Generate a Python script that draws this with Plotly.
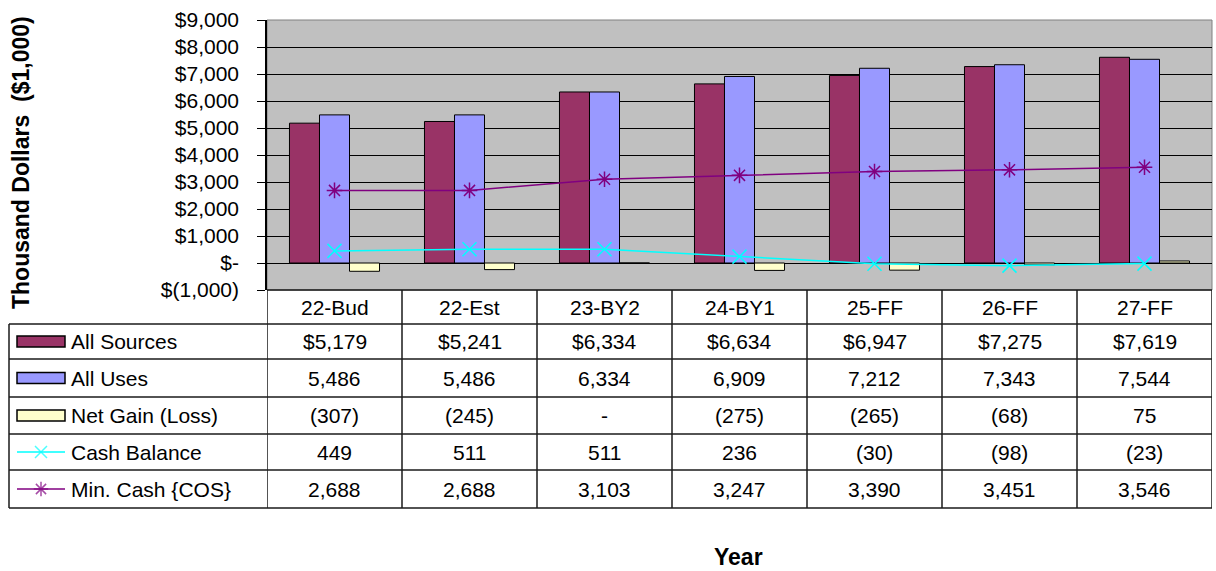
import plotly.graph_objects as go

# ---- data -------------------------------------------------------------
years = ["22-Bud", "22-Est", "23-BY2", "24-BY1", "25-FF", "26-FF", "27-FF"]
all_sources = [5179, 5241, 6334, 6634, 6947, 7275, 7619]
all_uses = [5486, 5486, 6334, 6909, 7212, 7343, 7544]
net_gain = [-307, -245, 0, -275, -265, -68, 75]
cash_balance = [449, 511, 511, 236, -30, -98, -23]
min_cash = [2688, 2688, 3103, 3247, 3390, 3451, 3546]

y_tick_vals = [-1000, 0, 1000, 2000, 3000, 4000, 5000, 6000, 7000, 8000, 9000]
y_tick_text = ["$(1,000)", "$-", "$1,000", "$2,000", "$3,000", "$4,000",
               "$5,000", "$6,000", "$7,000", "$8,000", "$9,000"]

# ---- styling / geometry ------------------------------------------------
W, H = 1216, 571
PLOT_L, PLOT_R, PLOT_T, PLOT_B = 267, 1212, 20, 290
ROW_EDGES = [290, 324, 359, 397, 434, 470, 508]
TABLE_L = 9
FONT = "Liberation Sans, Arial, sans-serif"
FS = 21

C_SRC, C_USE, C_NET = "#993366", "#9999FF", "#FFFFCC"
C_CASH, C_MIN = "#00FFFF", "#800080"


def acct(v, dollar=False):
    """Accounting-style number: thousands separators, parentheses for negatives."""
    if v == 0:
        return "-"
    s = f"{abs(v):,}"
    if dollar:
        s = "$" + s
    return f"({s})" if v < 0 else s


fig = go.Figure()

bar_line = dict(color="black", width=1)
fig.add_trace(go.Bar(x=years, y=all_sources, name="All Sources",
                     marker=dict(color=C_SRC, line=bar_line)))
fig.add_trace(go.Bar(x=years, y=all_uses, name="All Uses",
                     marker=dict(color=C_USE, line=bar_line)))
fig.add_trace(go.Bar(x=years, y=net_gain, name="Net Gain (Loss)",
                     marker=dict(color=C_NET, line=bar_line)))
fig.add_trace(go.Scatter(x=years, y=cash_balance, name="Cash Balance",
                         mode="lines+markers",
                         line=dict(color=C_CASH, width=1.5),
                         marker=dict(symbol="x-thin", size=14,
                                     line=dict(color=C_CASH, width=1.5))))
fig.add_trace(go.Scatter(x=years, y=min_cash, name="Min. Cash {COS}",
                         mode="lines+markers",
                         line=dict(color=C_MIN, width=1.5),
                         marker=dict(symbol="asterisk", size=13,
                                     line=dict(color=C_MIN, width=1.5))))

# ---- data table beneath the plot ---------------------------------------
rows = [
    ("All Sources", [acct(v, dollar=True) for v in all_sources], "bar", C_SRC),
    ("All Uses", [acct(v) for v in all_uses], "bar", C_USE),
    ("Net Gain (Loss)", [acct(v) for v in net_gain], "bar", C_NET),
    ("Cash Balance", [acct(v) for v in cash_balance], "x-thin", C_CASH),
    ("Min. Cash {COS}", [acct(v) for v in min_cash], "asterisk", C_MIN),
]

shapes = []
annotations = []
line_style = dict(color="#1a1a1a", width=1.5)

# plot area background
shapes.append(dict(type="rect", xref="x domain", yref="y domain",
                   x0=0, x1=1, y0=0, y1=1, fillcolor="#C0C0C0",
                   line=dict(color="#808080", width=1), layer="below"))

# horizontal rules
shapes.append(dict(type="line", xref="x2", yref="y2", x0=PLOT_L, x1=PLOT_R,
                   y0=ROW_EDGES[0], y1=ROW_EDGES[0], line=line_style))
for yy in ROW_EDGES[1:]:
    shapes.append(dict(type="line", xref="x2", yref="y2", x0=TABLE_L, x1=PLOT_R,
                       y0=yy, y1=yy, line=line_style))
# vertical rules: left edge of label column, then category column borders
shapes.append(dict(type="line", xref="x2", yref="y2", x0=TABLE_L, x1=TABLE_L,
                   y0=ROW_EDGES[1], y1=ROW_EDGES[-1], line=line_style))
for i in range(len(years) + 1):
    shapes.append(dict(type="line", xref="x", yref="y2", x0=i - 0.5, x1=i - 0.5,
                       y0=ROW_EDGES[0], y1=ROW_EDGES[-1], line=line_style))

cell_font = dict(family=FONT, size=FS, color="black")

# header: category names
hdr_y = (ROW_EDGES[0] + ROW_EDGES[1]) / 2
for yr in years:
    annotations.append(dict(x=yr, y=hdr_y, xref="x", yref="y2", text=yr,
                            showarrow=False, font=cell_font,
                            xanchor="center", yanchor="middle"))

for r, (label, cells, key, color) in enumerate(rows):
    cy = (ROW_EDGES[r + 1] + ROW_EDGES[r + 2]) / 2
    annotations.append(dict(x=69, y=cy, xref="x2", yref="y2", text=label,
                            showarrow=False, font=cell_font,
                            xanchor="left", yanchor="middle"))
    for yr, txt in zip(years, cells):
        annotations.append(dict(x=yr, y=cy, xref="x", yref="y2", text=txt,
                                showarrow=False, font=cell_font,
                                xanchor="center", yanchor="middle"))
    if key == "bar":
        shapes.append(dict(type="rect", xref="x2", yref="y2", x0=17, x1=65,
                           y0=cy - 5.5, y1=cy + 5.5, fillcolor=color,
                           line=dict(color="black", width=1.5)))
    else:
        fig.add_trace(go.Scatter(x=[17, 41, 65], y=[cy, cy, cy],
                                 xaxis="x2", yaxis="y2", mode="lines+markers",
                                 line=dict(color=color, width=1.5),
                                 marker=dict(symbol=key, size=[0, 12, 0],
                                             line=dict(color=color, width=1.5)),
                                 hoverinfo="skip", showlegend=False))

# axis titles
annotations.append(dict(x=21, y=163, xref="x2", yref="y2",
                        text="Thousand Dollars  ($1,000)", textangle=-90,
                        showarrow=False,
                        font=dict(family=FONT, size=23, color="black", weight="bold"),
                        xanchor="center", yanchor="middle"))
annotations.append(dict(x=738, y=557, xref="x2", yref="y2", text="Year",
                        showarrow=False,
                        font=dict(family=FONT, size=23, color="black", weight="bold"),
                        xanchor="center", yanchor="middle"))

fig.update_layout(
    width=W, height=H,
    autosize=False,
    margin=dict(l=0, r=0, t=0, b=0, pad=0, autoexpand=False),
    paper_bgcolor="white",
    plot_bgcolor="rgba(0,0,0,0)",
    showlegend=False,
    barmode="group", bargap=0.333, bargroupgap=0,
    font=dict(family=FONT, size=FS, color="black"),
    xaxis=dict(domain=[PLOT_L / W, PLOT_R / W], range=[-0.5, len(years) - 0.5],
               type="category", showticklabels=False, showgrid=False,
               zeroline=False, ticks="", showline=False, fixedrange=True,
               automargin=False),
    yaxis=dict(domain=[1 - PLOT_B / H, 1 - PLOT_T / H], range=[-1000, 9000],
               tickmode="array", tickvals=y_tick_vals, ticktext=y_tick_text,
               showgrid=True, gridcolor="black", gridwidth=1, zeroline=False,
               ticks="outside", ticklen=8, tickcolor="black", tickwidth=1,
               showline=True, linecolor="black", linewidth=1.5,
               ticklabelstandoff=14,
               tickfont=dict(family=FONT, size=FS, color="black"),
               fixedrange=True, automargin=False),
    xaxis2=dict(domain=[0, 1], range=[0, W], anchor="y2", visible=False,
                fixedrange=True, automargin=False),
    yaxis2=dict(domain=[0, 1], range=[H, 0], anchor="x2", visible=False,
                fixedrange=True, automargin=False),
    shapes=shapes,
    annotations=annotations,
)

fig.write_html("out.html")
